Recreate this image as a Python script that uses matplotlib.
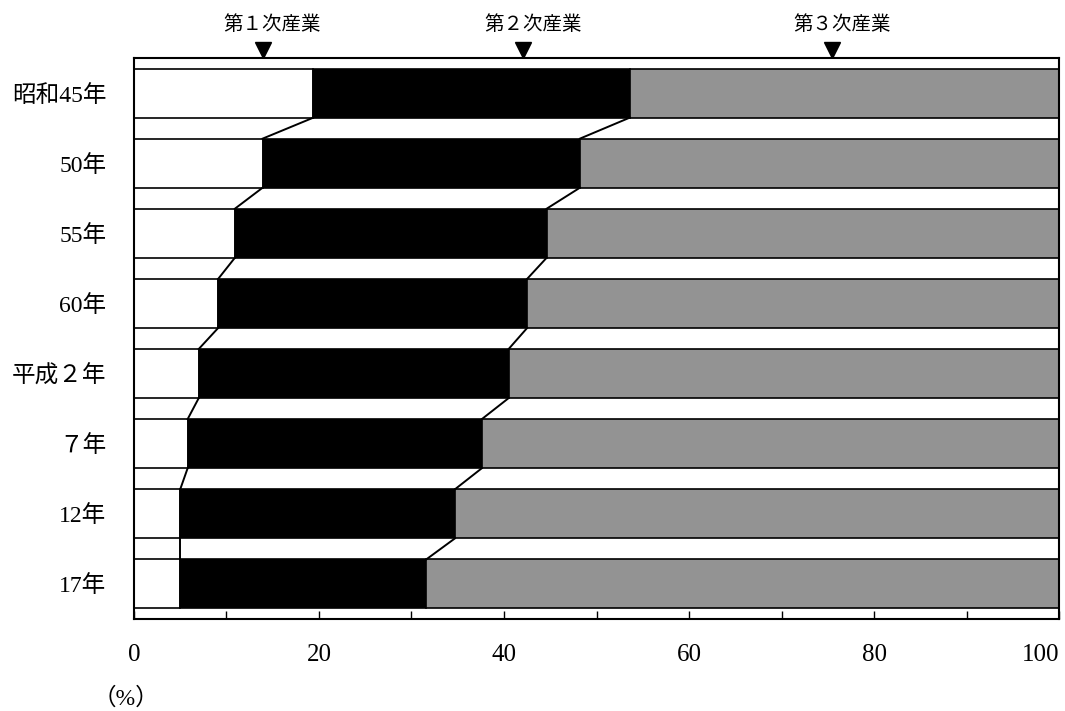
import matplotlib
matplotlib.use("Agg")
import matplotlib.pyplot as plt
import matplotlib.transforms as mtransforms

plt.rcParams["font.family"] = ["Liberation Serif", "Noto Sans CJK JP", "DejaVu Sans"]

YEARS = ["昭和45年", "50年", "55年", "60年", "平成２年", "７年", "12年", "17年"]
PRIMARY = [19.4, 13.9, 10.9, 9.1, 7.0, 5.8, 5.0, 5.0]
SECONDARY = [34.2, 34.3, 33.7, 33.4, 33.5, 31.8, 29.7, 26.6]
TERTIARY = [46.4, 51.8, 55.4, 57.5, 59.5, 62.4, 65.3, 68.4]

SECTOR_LABELS = ["第１次産業", "第２次産業", "第３次産業"]
SECTOR_MARK_X = [13.9, 42.1, 75.5]
SECTOR_COLORS = ["white", "black", "#939393"]

X_TICKS = [0, 20, 40, 60, 80, 100]
BAR_HEIGHT = 0.70


def main():
    fig = plt.figure(figsize=(10.65, 7.11), dpi=100)
    ax = fig.add_axes([0.1258, 0.1294, 0.8686, 0.789])
    ys = list(range(len(YEARS)))

    lefts = [0.0] * len(YEARS)
    bounds = []
    for values, color in zip([PRIMARY, SECONDARY, TERTIARY], SECTOR_COLORS):
        ax.barh(ys, values, left=lefts, height=BAR_HEIGHT, color=color,
                edgecolor="black", linewidth=1.2, zorder=2)
        lefts = [l + v for l, v in zip(lefts, values)]
        bounds.append(list(lefts))

    # connector lines between the sector boundaries of consecutive bars
    for cum in bounds[:2]:
        for i in range(len(YEARS) - 1):
            ax.plot([cum[i], cum[i + 1]], [i + BAR_HEIGHT / 2, i + 1 - BAR_HEIGHT / 2],
                    color="black", linewidth=1.4, zorder=3)

    ax.set_xlim(0, 100)
    ax.set_ylim(len(YEARS) - 0.5, -0.5)
    ax.set_yticks(ys)
    ax.set_yticklabels(YEARS, fontsize=17)
    ax.tick_params(axis="y", length=0, pad=20)
    ax.set_xticks(range(0, 101, 10), minor=True)
    ax.set_xticks(X_TICKS)
    ax.set_xticklabels([str(t) for t in X_TICKS], fontsize=18)
    ax.get_xticklabels()[-1].set_horizontalalignment("right")
    ax.tick_params(axis="x", which="both", direction="in", length=6, width=1.0, pad=18)
    for spine in ax.spines.values():
        spine.set_linewidth(1.5)

    trans = mtransforms.blended_transform_factory(ax.transData, ax.transAxes)
    for label, x in zip(SECTOR_LABELS, SECTOR_MARK_X):
        ax.plot([x], [1.014], marker="v", color="black", markersize=12,
                transform=trans, clip_on=False)
        ax.text(x + 1.0, 1.059, label, transform=trans, ha="center", va="center",
                fontsize=14)

    fig.text(0.118, 0.018, "（%）", ha="center", va="center", fontsize=17)
    fig.savefig("out.png", dpi=100)
    plt.close(fig)


if __name__ == "__main__":
    main()
